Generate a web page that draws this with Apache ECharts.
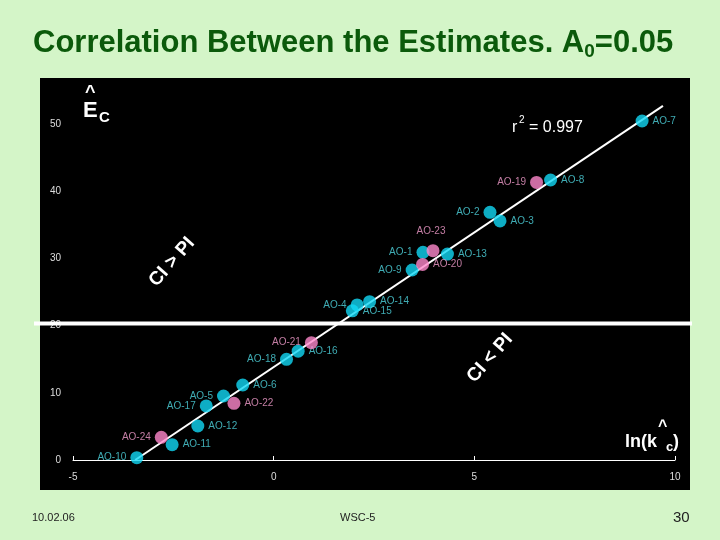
<!DOCTYPE html>
<html>
<head>
<meta charset="UTF-8">
<script src="https://cdn.jsdelivr.net/npm/echarts@6/dist/echarts.min.js"></script>
<style>body{margin:0;background:#d4f5c8}</style>
</head>
<body>
<div id="chart" style="width:720px;height:540px;"></div>
<script>
// point data: name, ln(k), E_C, group (0 = cyan, 1 = pink), label side
var names  = ['AO-10','AO-24','AO-11','AO-12','AO-17','AO-5','AO-22','AO-6','AO-18','AO-16','AO-21',
              'AO-15','AO-4','AO-14','AO-9','AO-20','AO-1','AO-23','AO-13','AO-2','AO-3','AO-19','AO-8','AO-7'];
var lnK    = [-3.41,-2.80,-2.53,-1.89,-1.68,-1.25,-0.99,-0.77,0.32,0.61,0.94,
              1.96,2.08,2.39,3.45,3.71,3.72,3.97,4.33,5.39,5.64,6.55,6.90,9.18];
var ec     = [0.34,3.38,2.28,5.06,8.04,9.52,8.43,11.16,14.98,16.2,17.46,
              22.2,23.07,23.56,28.27,29.1,30.9,31.15,30.65,36.86,35.57,41.3,41.67,50.45];
var group  = [0,1,0,0,0,0,1,0,0,0,1, 0,0,0,0,1,0,1,0,0,0,1,0,0];
var side   = ['left','left','right','right','left','left','right','right','left','right','left',
              'right','left','right','left','right','left','top','right','left','right','left','right','right'];
var fitLine = [[-3.45, 0], [9.7, 52.7]];
var divider = 20;
var yTicks = [0, 10, 20, 30, 40, 50];

var cyanPts = [], pinkPts = [];
for (var i = 0; i < names.length; i++) {
  var pt = {
    value: [lnK[i], ec[i]], name: names[i],
    label: { position: side[i], distance: 4 }
  };
  if (side[i] === 'top') pt.label.offset = [-2, -4];
  (group[i] ? pinkPts : cyanPts).push(pt);
}

var titleFont = 'bold 31px Liberation Sans';
var chart = echarts.init(document.getElementById('chart'));
chart.setOption({
  backgroundColor: '#d4f5c8',
  animation: false,
  graphic: [
    { type: 'rect', shape: { x: 40, y: 78, width: 650, height: 412 }, style: { fill: '#000' }, z: -10 },
    { type: 'text', left: 33, top: 28, style: {
        rich: {
          t: { font: titleFont, fill: '#0b5a0b', textShadowColor: '#c9c48e', textShadowOffsetX: 2, textShadowOffsetY: 2 },
          s: { font: 'bold 19px Liberation Sans', fill: '#0b5a0b', verticalAlign: 'bottom', padding: [17, 0, 0, 0] }
        },
        text: '{t|Correlation Between the Estimates. A}{s|0}{t|=0.05}'
      } },
    { type: 'text', left: 83, top: 100, style: { text: 'E', font: 'bold 22px Liberation Sans', fill: '#fff' } },
    { type: 'text', left: 85, top: 84, style: { text: '^', font: 'bold 18px Liberation Sans', fill: '#fff' } },
    { type: 'text', left: 99, top: 110, style: { text: 'C', font: 'bold 15px Liberation Sans', fill: '#fff' } },
    { type: 'text', left: 512, top: 120, style: { text: 'r', font: '16px Liberation Sans', fill: '#fff' } },
    { type: 'text', left: 519, top: 115, style: { text: '2', font: '10px Liberation Sans', fill: '#fff' } },
    { type: 'text', left: 529, top: 120, style: { text: '= 0.997', font: '16px Liberation Sans', fill: '#fff' } },
    { type: 'text', x: 172, y: 262, rotation: Math.PI * 0.27, style: { text: 'CI > PI', font: 'bold 19px Liberation Sans', fill: '#fff', align: 'center', verticalAlign: 'middle' } },
    { type: 'text', x: 490, y: 358, rotation: Math.PI * 0.27, style: { text: 'CI < PI', font: 'bold 19px Liberation Sans', fill: '#fff', align: 'center', verticalAlign: 'middle' } },
    { type: 'text', left: 625, top: 433, style: { text: 'ln(k', font: 'bold 18px Liberation Sans', fill: '#fff' } },
    { type: 'text', left: 658, top: 419, style: { text: '^', font: 'bold 16px Liberation Sans', fill: '#fff' } },
    { type: 'text', left: 666, top: 441, style: { text: 'c', font: 'bold 13px Liberation Sans', fill: '#fff' } },
    { type: 'text', left: 673, top: 433, style: { text: ')', font: 'bold 18px Liberation Sans', fill: '#fff' } },
    { type: 'text', left: 32, top: 512, style: { text: '10.02.06', font: '11px Liberation Sans', fill: '#222' } },
    { type: 'text', left: 340, top: 512, style: { text: 'WSC-5', font: '11px Liberation Sans', fill: '#222' } },
    { type: 'text', left: 673, top: 510, style: { text: '30', font: '15px Liberation Sans', fill: '#222' } }
  ],
  grid: { left: 73, right: 45, top: 90.4, bottom: 80 },
  xAxis: {
    type: 'value', min: -5, max: 10, interval: 5,
    axisLine: { lineStyle: { color: '#fff', width: 1 } },
    axisTick: { show: true, inside: true, length: 4, lineStyle: { color: '#fff' } },
    axisLabel: { color: '#ddd', fontSize: 10, fontFamily: 'Liberation Sans', margin: 12 },
    splitLine: { show: false }
  },
  yAxis: {
    type: 'value', min: 0, max: 55, interval: 10,
    axisLine: { show: false }, axisTick: { show: false },
    axisLabel: { color: '#ddd', fontSize: 10, fontFamily: 'Liberation Sans', margin: 12,
                 formatter: function (v) { return yTicks.indexOf(v) >= 0 ? v : ''; } },
    splitLine: { show: false }
  },
  series: [
    {
      type: 'line', data: fitLine, symbol: 'none', silent: true,
      lineStyle: { color: '#fff', width: 2 }, z: 2
    },
    {
      type: 'scatter', data: cyanPts, symbolSize: 13, z: 3,
      itemStyle: { color: '#12d8f5' },
      label: { show: true, formatter: '{b}', color: '#4fd6e0', fontSize: 10, fontFamily: 'Liberation Sans' }
    },
    {
      type: 'scatter', data: pinkPts, symbolSize: 13, z: 4,
      itemStyle: { color: '#ff88cc' },
      label: { show: true, formatter: '{b}', color: '#f29ccc', fontSize: 10, fontFamily: 'Liberation Sans' }
    }
  ]
});

// divider line at E_C = 20, running past the plot on both sides
var dy = chart.convertToPixel({ gridIndex: 0 }, [0, divider])[1];
var g = chart.getOption().graphic[0].elements;
g.push({ type: 'line', shape: { x1: 34, y1: dy - 2, x2: 692, y2: dy - 2 }, style: { stroke: '#fff', lineWidth: 4 }, z: 1 });
chart.setOption({ graphic: g }, { replaceMerge: ['graphic'] });
</script>
</body>
</html>
